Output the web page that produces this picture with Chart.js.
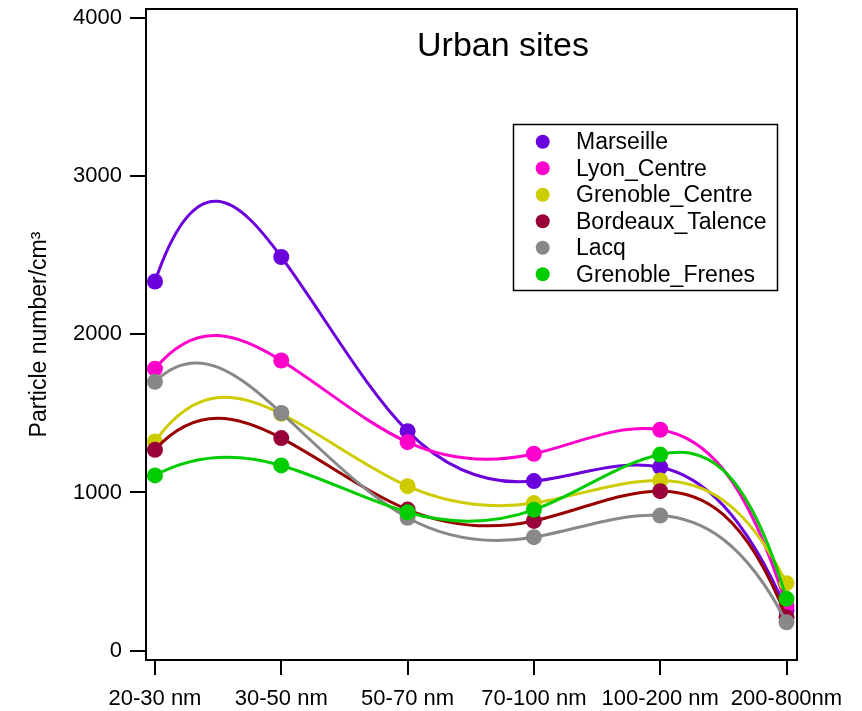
<!DOCTYPE html>
<html><head><meta charset="utf-8">
<script src="https://cdn.jsdelivr.net/npm/chart.js@4.4.1/dist/chart.umd.min.js"></script>
<style>html,body{margin:0;padding:0;background:#fff;}</style>
</head><body>
<canvas id="c" width="862" height="711"></canvas>
<script>
// ---------- data ----------
const categories = ['20-30 nm', '30-50 nm', '50-70 nm', '70-100 nm', '100-200 nm', '200-800nm'];
const seriesNames = ['Marseille', 'Lyon_Centre', 'Grenoble_Centre', 'Bordeaux_Talence', 'Lacq', 'Grenoble_Frenes'];
const marseille       = [2335, 2490, 1388, 1072, 1160, 255];
const lyonCentre      = [1783, 1835, 1318, 1245, 1397, 280];
const grenobleCentre  = [1323, 1498, 1040,  933, 1076, 426];
const bordeauxTalence = [1270, 1344,  892,  820, 1008, 210];
const lacq            = [1700, 1503,  840,  717,  854, 179];
const grenobleFrenes  = [1108, 1171,  875,  890, 1240, 327];
const yTickValues = [0, 1000, 2000, 3000, 4000];
const chartTitle = 'Urban sites';
const yAxisTitle = 'Particle number/cm\u00B3';

// ---------- styles ----------
const seriesValues = [marseille, lyonCentre, grenobleCentre, bordeauxTalence, lacq, grenobleFrenes];
const pointColors = ['#6c00dc', '#ff00cc', '#cccc00', '#99003a', '#888888', '#00cc00'];
const lineColors  = ['#6c00dc', '#ff00cc', '#cccc00', '#990000', '#888888', '#00cc00'];
const FONT = '"Liberation Sans", Arial, Helvetica, sans-serif';

// derivative (w.r.t. category index) of the interpolating polynomial at each node
function nodeDerivs(vals) {
  const n = vals.length;
  const w = i => { let p = 1; for (let l = 0; l < n; l++) if (l !== i) p *= (i - l); return p; };
  const out = [];
  for (let j = 0; j < n; j++) {
    let d = 0;
    for (let k = 0; k < n; k++) {
      if (k === j) { let s = 0; for (let l = 0; l < n; l++) if (l !== j) s += 1 / (j - l); d += vals[k] * s; }
      else d += vals[k] * w(j) / (w(k) * (j - k));
    }
    out.push(d);
  }
  return out;
}

// smooth curve: set bezier control points from polynomial slopes
const polyCurve = {
  id: 'polyCurve',
  beforeDatasetDraw(chart, args) {
    const meta = args.meta;
    const ds = chart.data.datasets[args.index];
    const xs = chart.scales.x, ys = chart.scales.y;
    const vals = ds.data.map(p => p.y);
    const der = nodeDerivs(vals);
    const dxPix = xs.getPixelForValue(1) - xs.getPixelForValue(0);
    const dyUnit = ys.getPixelForValue(1) - ys.getPixelForValue(0);
    meta.data.forEach((p, i) => {
      const dy = der[i] * dyUnit;
      p.cp1x = p.x - dxPix / 3; p.cp1y = p.y - dy / 3;
      p.cp2x = p.x + dxPix / 3; p.cp2y = p.y + dy / 3;
    });
    meta.dataset._pointsUpdated = true;
    meta.dataset._path = undefined;
  }
};

const decorations = {
  id: 'decorations',
  afterDraw(chart) {
    const ctx = chart.ctx, a = chart.chartArea;
    ctx.save();
    // frame
    ctx.strokeStyle = '#000'; ctx.lineWidth = 2;
    ctx.strokeRect(a.left, a.top, a.right - a.left, a.bottom - a.top);
    // title
    ctx.fillStyle = '#000';
    ctx.font = '34px ' + FONT;
    ctx.textAlign = 'center'; ctx.textBaseline = 'alphabetic';
    ctx.fillText(chartTitle, 503, 56);
    // legend
    const bx = 513.5, by = 124.5, bw = 264, bh = 166;
    ctx.fillStyle = '#fff'; ctx.fillRect(bx, by, bw, bh);
    ctx.strokeStyle = '#000'; ctx.lineWidth = 1.5; ctx.strokeRect(bx, by, bw, bh);
    ctx.font = '23px ' + FONT; ctx.textAlign = 'left'; ctx.textBaseline = 'middle';
    seriesNames.forEach((name, i) => {
      const cy = 141.7 + i * 26.5;
      ctx.fillStyle = pointColors[i];
      ctx.beginPath(); ctx.arc(542.7, cy, 7, 0, Math.PI * 2); ctx.fill();
      ctx.fillStyle = '#000';
      ctx.fillText(name, 576, cy + 1);
    });
    ctx.restore();
  }
};

const noPad = s => { s.paddingTop = 0; s.paddingBottom = 0; s.paddingLeft = 0; s.paddingRight = 0; };

new Chart(document.getElementById('c'), {
  type: 'line',
  data: {
    datasets: seriesNames.map((name, i) => ({
      label: name,
      data: seriesValues[i].map((v, j) => ({ x: j, y: v })),
      borderColor: lineColors[i],
      backgroundColor: pointColors[i],
      pointBackgroundColor: pointColors[i],
      pointBorderColor: pointColors[i],
      pointBorderWidth: 0,
      pointRadius: 8,
      borderWidth: 3,
      tension: 0.4,
      fill: false,
      order: -i
    }))
  },
  options: {
    responsive: false,
    animation: false,
    devicePixelRatio: 1,
    layout: { padding: { top: 9, right: 65, left: 0, bottom: 0 } },
    plugins: { legend: { display: false }, tooltip: { enabled: false }, title: { display: false } },
    scales: {
      x: {
        type: 'linear', min: -0.071, max: 5.083,
        afterBuildTicks: s => { s.ticks = categories.map((c, i) => ({ value: i })); },
        afterFit: s => { s.height = 51; noPad(s); },
        ticks: { callback: v => categories[v], font: { family: FONT, size: 22 }, color: '#000', padding: 11, maxRotation: 0, autoSkip: false },
        grid: { drawOnChartArea: false, drawTicks: true, tickLength: 15, color: '#000', lineWidth: 2 },
        border: { display: true, color: '#000', width: 2 }
      },
      y: {
        min: -60, max: 4059,
        afterBuildTicks: s => { s.ticks = yTickValues.map(v => ({ value: v })); },
        afterFit: s => { s.width = 146; noPad(s); },
        ticks: { callback: v => String(v), font: { family: FONT, size: 22 }, color: '#000', padding: 8 },
        grid: { drawOnChartArea: false, drawTicks: true, tickLength: 16, color: '#000', lineWidth: 2 },
        border: { display: true, color: '#000', width: 2 },
        title: { display: true, text: yAxisTitle, font: { family: FONT, size: 23 }, color: '#000', padding: { top: 26, bottom: 0 } }
      }
    }
  },
  plugins: [polyCurve, decorations]
});
</script>
</body></html>
